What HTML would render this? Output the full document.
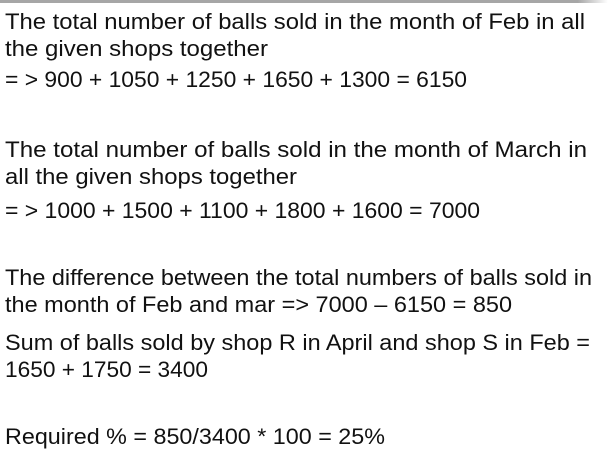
<!DOCTYPE html>
<html>
<head>
<meta charset="utf-8">
<style>
  html, body { margin: 0; padding: 0; background: #fff; }
  svg { display: block; }
  text { font-family: "Liberation Sans", sans-serif; font-size: 22px; fill: #111; }
</style>
</head>
<body>
<svg width="610" height="457" viewBox="0 0 610 457">
  <defs>
    <linearGradient id="fade" x1="0" x2="1" y1="0" y2="0">
      <stop offset="0.95" stop-color="#a6a6a6"/>
      <stop offset="1" stop-color="#ffffff"/>
    </linearGradient>
  </defs>
  <rect width="610" height="457" fill="#fff"/>
  <rect x="0" y="0" width="608" height="3" fill="url(#fade)"/>
  <text x="5" y="29" textLength="580" lengthAdjust="spacingAndGlyphs">The total number of balls sold in the month of Feb in all</text>
  <text x="5" y="56" textLength="263" lengthAdjust="spacingAndGlyphs">the given shops together</text>
  <text x="5" y="87" textLength="462" lengthAdjust="spacingAndGlyphs">= &gt; 900 + 1050 + 1250 + 1650 + 1300 = 6150</text>
  <text x="5" y="157" textLength="582" lengthAdjust="spacingAndGlyphs">The total number of balls sold in the month of March in</text>
  <text x="5" y="184" textLength="292" lengthAdjust="spacingAndGlyphs">all the given shops together</text>
  <text x="5" y="218" textLength="475" lengthAdjust="spacingAndGlyphs">= &gt; 1000 + 1500 + 1100 + 1800 + 1600 = 7000</text>
  <text x="5" y="285" textLength="587" lengthAdjust="spacingAndGlyphs">The difference between the total numbers of balls sold in</text>
  <text x="5" y="312" textLength="507" lengthAdjust="spacingAndGlyphs">the month of Feb and mar =&gt; 7000 – 6150 = 850</text>
  <text x="5" y="350" textLength="585" lengthAdjust="spacingAndGlyphs">Sum of balls sold by shop R in April and shop S in Feb =</text>
  <text x="5" y="377" textLength="203" lengthAdjust="spacingAndGlyphs">1650 + 1750 = 3400</text>
  <text x="5" y="444" textLength="380" lengthAdjust="spacingAndGlyphs">Required % = 850/3400 * 100 = 25%</text>
</svg>
</body>
</html>
